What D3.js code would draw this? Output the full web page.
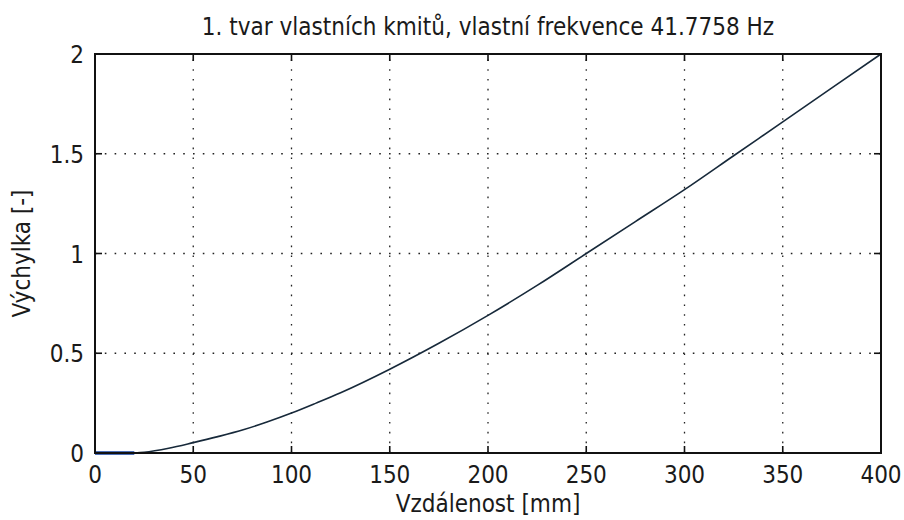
<!DOCTYPE html>
<html>
<head>
    <meta charset="utf-8">
    <title>1. tvar vlastních kmitů</title>
    <style>
        body { margin: 0; background: #fff; }
        text { font-family: "Liberation Sans Narrow", "Arial Narrow", "DejaVu Sans Condensed", sans-serif; fill: #1a1a1a; }
    </style>
</head>
<body>
<svg id="svg"></svg>
<script src="https://cdn.jsdelivr.net/npm/d3@7/dist/d3.min.js"></script>
<script>
    // mode shape
    const distance = [20, 25, 37.5, 50, 62.5, 75, 87.5, 100, 112.5, 125, 150, 175, 200, 225, 250, 275, 300, 325, 350, 375, 400]
    const deflection = [0, 0.004, 0.024, 0.052, 0.082, 0.115, 0.155, 0.2, 0.25, 0.302, 0.42, 0.55, 0.69, 0.84, 1.0, 1.16, 1.32, 1.49, 1.66, 1.83, 2.0]

    // clamped part drawn in blue
    const clampX = [0, 20]
    const clampY = [0, 0]

    const xTicks = [0, 50, 100, 150, 200, 250, 300, 350, 400]
    const yTicks = [0, 0.5, 1, 1.5, 2]

    const WIDTH = 904
    const HEIGHT = 520
    const margin = {top: 54, right: 23, bottom: 67, left: 95}

    const svg = d3.select('svg')
        .attr('width', WIDTH)
        .attr('height', HEIGHT)

    const x = d3.scaleLinear().domain([0, 400]).range([margin.left, WIDTH - margin.right])
    const y = d3.scaleLinear().domain([0, 2]).range([HEIGHT - margin.bottom, margin.top])

    // grid
    const grid = svg.append('g')
    grid.selectAll('line.vg')
        .data(xTicks.slice(1, -1))
        .enter().append('line')
        .attr('x1', d => x(d)).attr('x2', d => x(d))
        .attr('y1', y(0)).attr('y2', y(2))
        .attr('stroke', '#222').attr('stroke-width', 1.3)
        .attr('stroke-dasharray', '1.6,8.2')
    grid.selectAll('line.hg')
        .data(yTicks.slice(1, -1))
        .enter().append('line')
        .attr('x1', x(0)).attr('x2', x(400))
        .attr('y1', d => y(d)).attr('y2', d => y(d))
        .attr('stroke', '#222').attr('stroke-width', 1.3)
        .attr('stroke-dasharray', '1.6,8.2')

    // ticks on all four sides, inward
    const tick = 7
    const axes = svg.append('g').attr('stroke', '#111').attr('stroke-width', 1.6)
    xTicks.forEach(d => {
        axes.append('line').attr('x1', x(d)).attr('x2', x(d)).attr('y1', y(0)).attr('y2', y(0) - tick)
        axes.append('line').attr('x1', x(d)).attr('x2', x(d)).attr('y1', y(2)).attr('y2', y(2) + tick)
    })
    yTicks.forEach(d => {
        axes.append('line').attr('x1', x(0)).attr('x2', x(0) + tick).attr('y1', y(d)).attr('y2', y(d))
        axes.append('line').attr('x1', x(400)).attr('x2', x(400) - tick).attr('y1', y(d)).attr('y2', y(d))
    })

    // lines
    const line = d3.line().x(d => x(d[0])).y(d => y(d[1])).curve(d3.curveMonotoneX)
    svg.append('path')
        .datum(distance.map((d, i) => [d, deflection[i]]))
        .attr('d', line)
        .attr('fill', 'none')
        .attr('stroke', '#17293a')
        .attr('stroke-width', 1.6)
    svg.append('path')
        .datum(clampX.map((d, i) => [d, clampY[i]]))
        .attr('d', line)
        .attr('fill', 'none')
        .attr('stroke', '#1240a0')
        .attr('stroke-width', 3.5)

    // frame
    svg.append('rect')
        .attr('x', x(0)).attr('y', y(2))
        .attr('width', x(400) - x(0)).attr('height', y(0) - y(2))
        .attr('fill', 'none').attr('stroke', '#111').attr('stroke-width', 2)

    // tick labels
    svg.append('g').selectAll('text')
        .data(xTicks)
        .enter().append('text')
        .attr('x', d => x(d)).attr('y', y(0) + 30)
        .attr('text-anchor', 'middle')
        .attr('font-size', 24)
        .text(d => d)
    svg.append('g').selectAll('text')
        .data(yTicks)
        .enter().append('text')
        .attr('x', x(0) - 11).attr('y', d => y(d) + 9)
        .attr('text-anchor', 'end')
        .attr('font-size', 24)
        .text(d => d)

    // titles
    svg.append('text')
        .attr('x', (x(0) + x(400)) / 2).attr('y', 35)
        .attr('text-anchor', 'middle')
        .attr('font-size', 24)
        .text('1. tvar vlastních kmitů, vlastní frekvence 41.7758 Hz')
    svg.append('text')
        .attr('x', (x(0) + x(400)) / 2).attr('y', 512)
        .attr('text-anchor', 'middle')
        .attr('font-size', 24)
        .text('Vzdálenost [mm]')
    svg.append('text')
        .attr('transform', `translate(30, ${(y(0) + y(2)) / 2}) rotate(-90)`)
        .attr('text-anchor', 'middle')
        .attr('font-size', 24)
        .text('Výchylka [-]')
</script>
</body>
</html>
